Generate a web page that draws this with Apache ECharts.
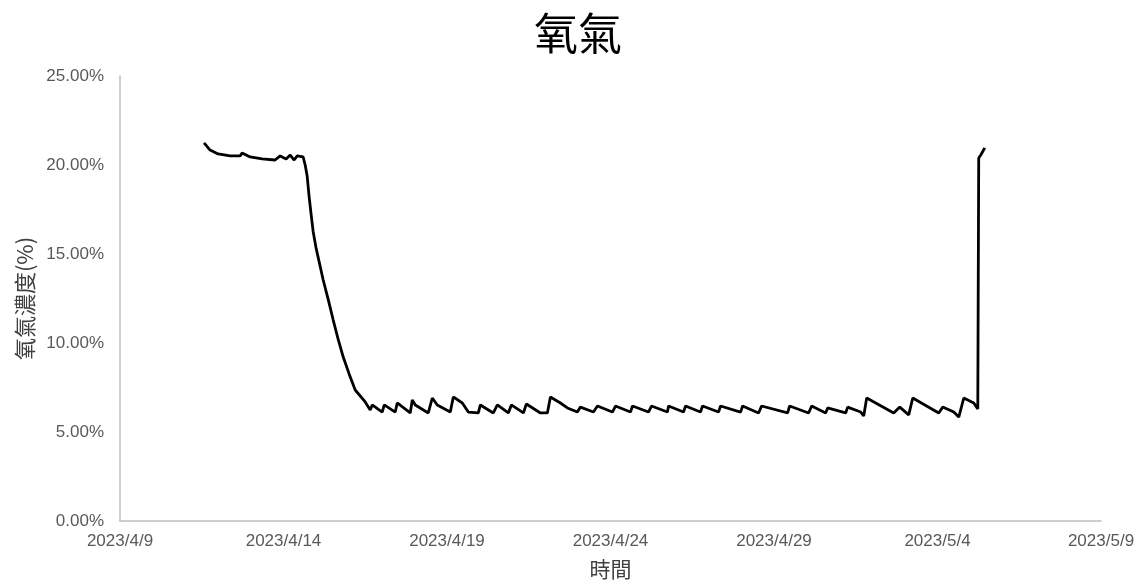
<!DOCTYPE html>
<html>
<head>
<meta charset="utf-8">
<script src="https://cdn.jsdelivr.net/npm/echarts@6/dist/echarts.min.js"></script>
<style>
html,body{margin:0;padding:0;background:#fff;}
#chart{width:1146px;height:583px;}
</style>
</head>
<body>
<div id="chart"></div>
<script>
// ---- data ----
const chartTitle = '氧氣';
const xAxisName = '時間';
const yAxisName = '氧氣濃度(%)';
const axisStartDate = '2023-04-09 00:00';
const xTickDays = [0, 5, 10, 15, 20, 25, 30];
const yTicks = [0, 5, 10, 15, 20, 25];

const times = [
 '2023-04-11 13:40','2023-04-11 18:07','2023-04-12 00:00','2023-04-12 08:48','2023-04-12 16:09',
 '2023-04-12 17:37','2023-04-12 23:30','2023-04-13 08:20','2023-04-13 17:50','2023-04-13 21:32',
 '2023-04-14 01:56','2023-04-14 04:53','2023-04-14 07:50','2023-04-14 10:02','2023-04-14 14:26',
 '2023-04-14 15:54','2023-04-14 17:22','2023-04-14 18:50','2023-04-14 20:19','2023-04-14 21:47',
 '2023-04-15 00:00','2023-04-15 02:12','2023-04-15 05:08','2023-04-15 08:48','2023-04-15 12:29',
 '2023-04-15 16:09','2023-04-15 19:50','2023-04-16 00:14','2023-04-16 04:38',
 '2023-04-16 11:58','2023-04-16 15:39','2023-04-16 17:07','2023-04-17 00:28',
 '2023-04-17 01:56','2023-04-17 10:01','2023-04-17 11:29','2023-04-17 21:02','2023-04-17 22:30',
 '2023-04-18 00:43','2023-04-18 10:16','2023-04-18 13:12','2023-04-18 16:52','2023-04-19 02:25',
 '2023-04-19 04:38','2023-04-19 11:14','2023-04-19 15:39','2023-04-19 23:00','2023-04-20 00:27',
 '2023-04-20 10:00','2023-04-20 12:57','2023-04-20 21:02','2023-04-20 23:14','2023-04-21 08:03',
 '2023-04-21 10:15','2023-04-21 20:33','2023-04-22 01:41','2023-04-22 03:53','2023-04-22 11:14',
 '2023-04-22 16:22','2023-04-22 23:43','2023-04-23 01:55','2023-04-23 11:28','2023-04-23 14:25',
 '2023-04-24 01:26','2023-04-24 03:39','2023-04-24 14:40','2023-04-24 16:08','2023-04-25 03:53',
 '2023-04-25 06:04','2023-04-25 17:50','2023-04-25 18:34','2023-04-26 05:35','2023-04-26 07:03',
 '2023-04-26 18:04','2023-04-26 19:33','2023-04-27 07:18','2023-04-27 08:47','2023-04-27 23:28',
 '2023-04-28 00:56','2023-04-28 12:41','2023-04-28 14:53','2023-04-29 09:59','2023-04-29 11:27',
 '2023-04-30 01:25','2023-04-30 03:37','2023-04-30 13:55','2023-04-30 15:23','2023-05-01 04:36',
 '2023-05-01 06:04','2023-05-01 15:37','2023-05-01 17:50','2023-05-01 20:02','2023-05-02 15:52',
 '2023-05-02 20:17','2023-05-03 02:53','2023-05-03 05:50','2023-05-04 00:55','2023-05-04 03:52',
 '2023-05-04 11:57','2023-05-04 15:37','2023-05-04 19:18','2023-05-05 02:38','2023-05-05 05:34',
 '2023-05-05 06:15','2023-05-05 07:46','2023-05-05 09:14','2023-05-05 10:42'
];
const oxygen = [
 21.24,20.84,20.62,20.51,20.51,
 20.67,20.45,20.34,20.28,20.51,
 20.34,20.56,20.28,20.51,20.45,
 20.00,19.38,18.20,17.20,16.25,
 15.30,14.55,13.54,12.45,11.29,
 10.20,9.21,8.25,7.36,
 6.69,6.24,6.52,6.12,
 6.52,6.12,6.63,6.07,6.80,
 6.52,6.07,6.91,6.52,6.12,
 6.97,6.63,6.12,6.07,6.52,
 6.07,6.52,6.07,6.52,6.07,
 6.57,6.07,6.07,6.97,6.63,
 6.35,6.12,6.40,6.12,6.46,
 6.12,6.46,6.12,6.46,6.12,
 6.46,6.12,6.46,6.12,6.46,
 6.12,6.46,6.12,6.46,6.12,
 6.46,6.07,6.46,6.07,6.46,
 6.07,6.46,6.07,6.35,6.07,
 6.40,6.12,5.90,6.91,6.07,
 6.40,5.96,6.91,6.07,6.40,
 6.12,5.84,6.91,6.63,6.29,
 20.39,20.56,20.67,20.96
];

// ---- helpers ----
function parseUTC(s){
  const [d,t] = s.split(' ');
  const [y,m,dd] = d.split('-').map(Number);
  const [h,mi] = (t||'00:00').split(':').map(Number);
  return Date.UTC(y,m-1,dd,h,mi);
}
const DAY = 86400000;
const t0 = parseUTC(axisStartDate);
const seriesData = times.map((s,i)=>[(parseUTC(s)-t0)/DAY, oxygen[i]]);
function dayLabel(v){
  const d = new Date(t0 + v*DAY);
  return d.getUTCFullYear()+'/'+(d.getUTCMonth()+1)+'/'+d.getUTCDate();
}

const chart = echarts.init(document.getElementById('chart'), null, {renderer:'canvas'});
chart.setOption({
  animation:false,
  backgroundColor:'#ffffff',
  title:{
    text:chartTitle, left:529, top:6,
    textStyle:{fontFamily:'"Noto Sans CJK TC"', fontSize:44, fontWeight:'normal', color:'#000'}
  },
  grid:{left:120, right:45, top:76, bottom:62, containLabel:false, outerBoundsMode:'none'},
  xAxis:{
    type:'value', min:xTickDays[0], max:xTickDays[xTickDays.length-1], interval:5,
    name:xAxisName, nameLocation:'middle', nameGap:38,
    nameTextStyle:{fontFamily:'"Noto Sans CJK TC"', fontSize:21, color:'#404040'},
    axisLine:{show:true, lineStyle:{color:'#BFBFBF', width:1.5}},
    axisTick:{show:false},
    splitLine:{show:false},
    axisLabel:{formatter:dayLabel, margin:12, fontFamily:'"Liberation Sans"', fontSize:17, color:'#595959'}
  },
  yAxis:{
    type:'value', min:yTicks[0], max:yTicks[yTicks.length-1], interval:5,
    name:yAxisName, nameLocation:'middle', nameGap:84, nameRotate:90,
    nameTextStyle:{fontFamily:'"Noto Sans CJK TC"', fontSize:22, color:'#404040'},
    axisLine:{show:true, lineStyle:{color:'#BFBFBF', width:1.5}},
    axisTick:{show:false},
    splitLine:{show:false},
    axisLabel:{formatter:v=>v.toFixed(2)+'%', margin:16, fontFamily:'"Liberation Sans"', fontSize:17, color:'#595959'}
  },
  series:[{
    type:'line', data:seriesData, showSymbol:false, smooth:false,
    lineStyle:{color:'#000', width:2.8}
  }]
});
</script>
</body>
</html>
